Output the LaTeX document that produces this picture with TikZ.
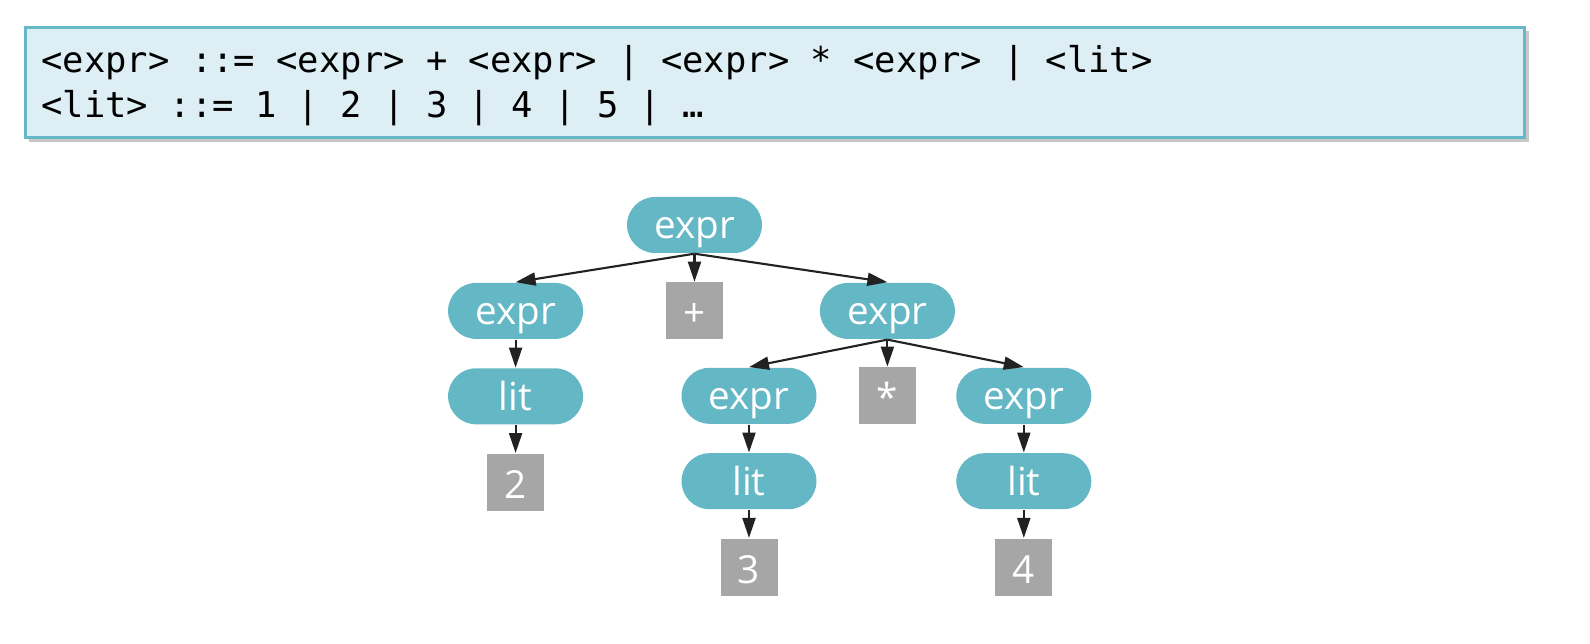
\documentclass[tikz,border=0pt]{standalone}
\usepackage{fontspec}
\usetikzlibrary{positioning,arrows.meta,shadows}
\newfontfamily\grammarfont{DejaVu Sans Mono}[WordSpace={1,0,0}]
\newfontfamily\treefont{Open Sans}
\definecolor{boxfill}{HTML}{DDEFF4}
\definecolor{boxteal}{HTML}{66B8C6}
\definecolor{pillteal}{HTML}{64B7C4}
\definecolor{leafgray}{HTML}{A6A6A6}
\definecolor{arrowdark}{HTML}{222222}
\tikzset{
  gram/.style = {rectangle, draw=boxteal, line width=0.85pt, fill=boxfill,
                 text width=14.67cm, align=flush left, inner xsep=0.16cm,
                 minimum height=1.02cm,
                 font=\grammarfont\fontsize{10.1pt}{12.8pt}\selectfont,
                 drop shadow={shadow xshift=0.04cm, shadow yshift=-0.04cm,
                              fill=black, opacity=0.22}},
  pill/.style = {rectangle, rounded corners=0.28cm, fill=pillteal, text=white,
                 minimum width=1.35cm, minimum height=0.56cm, inner ysep=0pt,
                 text height=0.3cm, text depth=0.02cm,
                 font=\treefont\fontsize{11pt}{12pt}\selectfont},
  leaf/.style = {rectangle, fill=leafgray, text=white, minimum size=0.57cm,
                 inner sep=0pt, text height=0.32cm, text depth=0pt,
                 font=\treefont\fontsize{11pt}{12pt}\selectfont},
  arr/.style  = {-{Triangle[length=0.2cm,width=0.13cm]}, line width=0.6pt,
                 draw=arrowdark, fill=arrowdark}
}
\begin{document}
\begin{tikzpicture}[node distance=0.28cm]
    \useasboundingbox (0,0) rectangle (15.9,-6.44);
    \node[gram, anchor=north west] (grammar) at (0.24,-0.26)
      {\rule{0pt}{9.5pt}<expr> ::= <expr> + <expr> | <expr> * <expr> | <lit>\\
       <lit> ::= 1 | 2 | 3 | 4 | 5 | …};
    \node[pill] (root) at (6.945,-2.25) {expr};
    \node[leaf, below=of root] (plus) {+};
    \node[pill, left=0.815cm of plus]  (lexpr) {expr};
    \node[pill, right=0.955cm of plus] (rexpr) {expr};
    \node[pill, below=of lexpr] (llit) {lit};
    \node[leaf, below=of llit]  (two) {2};
    \node[leaf, below=0.27cm of rexpr] (star) {*};
    \node[pill, left=0.41cm of star]  (rlexpr) {expr};
    \node[pill, right=0.39cm of star] (rrexpr) {expr};
    \node[pill, below=of rlexpr] (rllit) {lit};
    \node[leaf, below=of rllit]  (three) {3};
    \node[pill, below=of rrexpr] (rrlit) {lit};
    \node[leaf, below=of rrlit]  (four) {4};
    % Pfeile von unten Mitte zu oben Mitte
    \draw[arr] (root.south) -- (lexpr.north);
    \draw[arr] (root.south) -- (plus.north);
    \draw[arr] (root.south) -- (rexpr.north);
    \draw[arr] (lexpr.south) -- (llit.north);
    \draw[arr] (llit.south) -- (two.north);
    \draw[arr] (rexpr.south) -- (rlexpr.north);
    \draw[arr] (rexpr.south) -- (star.north);
    \draw[arr] (rexpr.south) -- (rrexpr.north);
    \draw[arr] (rlexpr.south) -- (rllit.north);
    \draw[arr] (rllit.south) -- (three.north);
    \draw[arr] (rrexpr.south) -- (rrlit.north);
    \draw[arr] (rrlit.south) -- (four.north);
\end{tikzpicture}
\end{document}
